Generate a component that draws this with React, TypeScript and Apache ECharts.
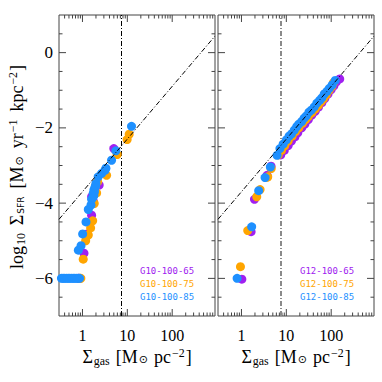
import React, { useEffect, useRef } from "react";
import * as echarts from "echarts";

// ---- data: [Σgas (M⊙ pc^-2), log10 ΣSFR] ----
const g10_65 = [
  [0.82, -6], [1.08, -5.33], [1.28, -4.82], [1.6, -4.32], [1.75, -3.95], [1.6, -3.83],
  [1.9, -3.7], [2.36, -3.52], [5.0, -2.55],
];
const g10_75 = [
  [0.88, -6], [0.92, -6], [1.04, -5.49], [1.18, -5.0], [1.35, -4.85], [1.52, -4.66],
  [1.69, -4.47], [1.83, -4.01], [2.07, -3.73], [1.95, -3.55], [2.18, -3.43], [3.45, -3.26],
  [5.93, -2.71], [9.9, -2.31], [11, -2.17],
];
const g10_85 = [
  [0.34, -6], [0.37, -6], [0.4, -6], [0.44, -6], [0.48, -6], [0.52, -6], [0.57, -6],
  [0.62, -6], [0.67, -6], [0.73, -6], [0.8, -6], [0.86, -6],
  [0.81, -5.25], [0.93, -5.13], [1.01, -4.82], [1.2, -4.5], [1.35, -4.17], [1.55, -4.05],
  [1.6, -3.9], [1.7, -3.85], [1.8, -3.8], [1.74, -3.74], [1.85, -3.7], [1.8, -3.65],
  [1.9, -3.58], [1.95, -3.55], [2.0, -3.48], [2.24, -3.3], [2.67, -3.21], [3.16, -3.13],
  [3.33, -3.07], [4.45, -2.86], [5.55, -2.61], [12.4, -1.96],
];
const g12_65 = [
  [1.02, -6.02], [1.64, -4.76], [1.95, -3.9], [3.72, -3.26], [4.57, -3.02], [7.5, -2.72],
  [9, -2.6], [11, -2.47], [13, -2.35], [15.5, -2.24], [18, -2.13], [22, -2.0], [26, -1.9],
  [31, -1.78], [37, -1.66], [44, -1.56], [52, -1.45], [62, -1.33], [72, -1.22], [85, -1.1],
  [100, -0.98], [115, -0.88], [130, -0.78], [155, -0.7],
];
const g12_75 = [
  [0.95, -5.69], [1.38, -4.73], [2.19, -3.83], [2.6, -3.64], [3.78, -3.31], [3.85, -3.3],
  [4.6, -3.08], [6.6, -2.72], [7.8, -2.6], [9.2, -2.48], [11, -2.35], [13.5, -2.22],
  [16, -2.1], [19, -2.0], [23, -1.88], [27, -1.78], [31, -1.7], [37, -1.6], [44, -1.5],
  [52, -1.4], [60, -1.3], [68, -1.22], [78, -1.12], [90, -1.0], [104, -0.9], [112, -0.8],
];
const g12_85 = [
  [0.8, -6.0], [1.69, -4.63], [2.42, -3.67], [3.36, -3.32], [4.41, -3.04], [6.2, -2.73],
  [7.2, -2.55], [8.5, -2.43], [10, -2.32], [11.5, -2.22], [13, -2.16], [15, -2.06],
  [17, -1.97], [19, -1.9], [22, -1.83], [25, -1.74], [28, -1.68], [32, -1.58], [36, -1.53],
  [42, -1.44], [48, -1.34], [55, -1.27], [62, -1.2], [70, -1.1], [80, -1.03], [91, -0.95],
  [105, -0.86], [123, -0.74],
];
const ksLine = [[0.3, -4.43], [900, 0.44]];
const gasThreshold = 7.5;

const leftNames = ["G10-100-65", "G10-100-75", "G10-100-85"];
const rightNames = ["G12-100-65", "G12-100-75", "G12-100-85"];
const colors = ["#A020F0", "#FFA500", "#1E90FF"];

const xMajorTicks = [1, 10, 100];
const xMinorTicks = [0.4, 0.5, 0.6, 0.7, 0.8, 0.9, 2, 3, 4, 5, 6, 7, 8, 9, 20, 30, 40, 50, 60, 70, 80, 90, 200, 300, 400, 500, 600, 700, 800];
const yMajorTicks = [-6, -4, -2, 0];
const yMinorTicks = [-6.5, -5.5, -5, -4.5, -3.5, -3, -2.5, -1.5, -1, -0.5, 0.5];

const SERIF = "'Liberation Serif', 'DejaVu Serif', serif";
const AXIS_COLOR = "#444";

export default function App() {
  const ref = useRef<HTMLDivElement>(null);
  useEffect(() => {
    if (!ref.current) return;
    const chart = echarts.init(ref.current, null, { renderer: "svg" });

    const G = [
      { left: 59, top: 15, width: 156, height: 301 },
      { left: 218, top: 15, width: 156, height: 301 },
    ];

    const tickData: number[][] = [];
    xMajorTicks.forEach((v) => tickData.push([v, -3, 0, 7]));
    xMinorTicks.forEach((v) => tickData.push([v, -3, 0, 3.5]));
    yMajorTicks.forEach((v) => tickData.push([1, v, 1, 7]));
    yMinorTicks.forEach((v) => tickData.push([1, v, 1, 3.5]));

    const tickSeries = (i: number) => ({
      type: "custom",
      xAxisIndex: i,
      yAxisIndex: i,
      silent: true,
      clip: false,
      z: 1,
      data: tickData,
      encode: { x: 0, y: 1 },
      renderItem: (params: any, api: any) => {
        const cs = params.coordSys;
        const kind = api.value(2);
        const len = api.value(3);
        const style = { stroke: AXIS_COLOR, lineWidth: 1 };
        if (kind === 0) {
          const px = api.coord([api.value(0), -3])[0];
          return {
            type: "group",
            children: [
              { type: "line", shape: { x1: px, y1: cs.y + cs.height, x2: px, y2: cs.y + cs.height - len }, style },
              { type: "line", shape: { x1: px, y1: cs.y, x2: px, y2: cs.y + len }, style },
            ],
          };
        }
        const py = api.coord([1, api.value(1)])[1];
        return {
          type: "group",
          children: [
            { type: "line", shape: { x1: cs.x, y1: py, x2: cs.x + len, y2: py }, style },
            { type: "line", shape: { x1: cs.x + cs.width, y1: py, x2: cs.x + cs.width - len, y2: py }, style },
          ],
        };
      },
    });

    const scatter = (data: number[][], i: number, color: string) => ({
      type: "scatter",
      xAxisIndex: i,
      yAxisIndex: i,
      data,
      symbol: "circle",
      symbolSize: 9,
      itemStyle: { color, opacity: 1 },
      z: 3,
    });

    const ks = (i: number, vColor: string, vWidth: number) => ({
      type: "line",
      xAxisIndex: i,
      yAxisIndex: i,
      data: ksLine,
      symbol: "none",
      z: 4,
      lineStyle: { color: "#000", width: 1, type: [5, 2, 1, 2] },
      markLine: {
        symbol: "none",
        silent: true,
        z: 2,
        label: { show: false },
        lineStyle: { color: vColor, width: vWidth, type: [5, 2, 1, 2] },
        data: [{ xAxis: gasThreshold }],
      },
    });

    const xFmt = (v: number) => {
      const l = Math.log10(v);
      if (Math.abs(l - Math.round(l)) < 1e-6 && v >= 0.99 && v <= 101) return String(Math.round(v));
      return "";
    };
    const yFmt = (v: number) => {
      if (Math.abs(v % 2) > 1e-6) return "";
      if (v === 0) return "0";
      return v < 0 ? "\u2212" + Math.abs(v) : String(v);
    };

    const xAxis = [0, 1].map((i) => ({
      type: "log",
      logBase: 10,
      gridIndex: i,
      min: 0.3,
      max: 900,
      axisLine: { show: false },
      axisTick: { show: false },
      splitLine: { show: false },
      axisLabel: {
        formatter: xFmt,
        fontSize: 16,
        fontFamily: SERIF,
        color: "#000",
        margin: 11,
        showMinLabel: false,
        showMaxLabel: false,
      },
    }));
    const yAxis = [0, 1].map((i) => ({
      type: "value",
      gridIndex: i,
      min: -7,
      max: 1,
      interval: 1,
      axisLine: { show: false },
      axisTick: { show: false },
      splitLine: { show: false },
      axisLabel: {
        show: i === 0,
        formatter: yFmt,
        fontSize: 17,
        fontFamily: SERIF,
        color: "#000",
        margin: 6,
      },
    }));

    const mkRich = (base: number, gap: number) => ({
      a: { fontSize: base, fontFamily: SERIF, color: "#000" },
      w: { fontSize: base, fontFamily: SERIF, color: "#000", padding: [0, 0, 0, gap] },
      s: { fontSize: base * 0.66, fontFamily: SERIF, color: "#000", padding: [7, 1, 0, 1] },
      f: { fontSize: base * 0.5, fontFamily: "'DejaVu Sans', sans-serif", color: "#000", padding: [7, 1, 0, 1] },
      o: { fontSize: base * 0.62, fontFamily: "'DejaVu Sans', sans-serif", color: "#000", padding: [5, 1, 0, 1] },
      p: { fontSize: base * 0.66, fontFamily: SERIF, color: "#000", padding: [0, 1, 8, 1] },
    });
    const xTitle = "{a|\u03A3}{s|gas}{w|[M}{o|\u2299}{w|pc}{p|\u22122}{a|]}";
    const yTitle = "{a|log}{s|10}{w|\u03A3}{f|SFR}{w|[M}{o|\u2299}{w|yr}{p|\u22121}{w|kpc}{p|\u22122}{a|]}";

    const legendTexts: any[] = [];
    [leftNames, rightNames].forEach((names, gi) => {
      names.forEach((n, k) => {
        legendTexts.push({
          type: "text",
          x: gi === 0 ? 140 : 300,
          y: 271 + k * 12.8,
          style: {
            text: n,
            fill: colors[k],
            fontSize: 9,
            fontFamily: "'DejaVu Sans Mono', monospace",
            align: "left",
            verticalAlign: "middle",
          },
        });
      });
    });

    chart.setOption({
      animation: false,
      grid: G.map((g) => ({ ...g, show: true, borderColor: AXIS_COLOR, borderWidth: 1, backgroundColor: "transparent" })),
      xAxis,
      yAxis,
      series: [
        tickSeries(0),
        tickSeries(1),
        ks(0, "#000", 1),
        ks(1, "#8a8a8a", 2),
        scatter(g10_65, 0, colors[0]),
        scatter(g10_75, 0, colors[1]),
        scatter(g10_85, 0, colors[2]),
        scatter(g12_65, 1, colors[0]),
        scatter(g12_75, 1, colors[1]),
        scatter(g12_85, 1, colors[2]),
      ],
      graphic: [
        ...legendTexts,
        { type: "text", x: 137, y: 357, style: { text: xTitle, rich: mkRich(18, 5), align: "center", verticalAlign: "middle" } },
        { type: "text", x: 296, y: 357, style: { text: xTitle, rich: mkRich(18, 5), align: "center", verticalAlign: "middle" } },
        { type: "text", x: 17, y: 167, rotation: Math.PI / 2, style: { text: yTitle, rich: mkRich(18, 7), align: "center", verticalAlign: "middle" } },
      ],
    });
    return () => chart.dispose();
  }, []);
  return <div ref={ref} style={{ position: "fixed", left: 0, top: 0, width: 382, height: 382, background: "#fff" }} />;
}
